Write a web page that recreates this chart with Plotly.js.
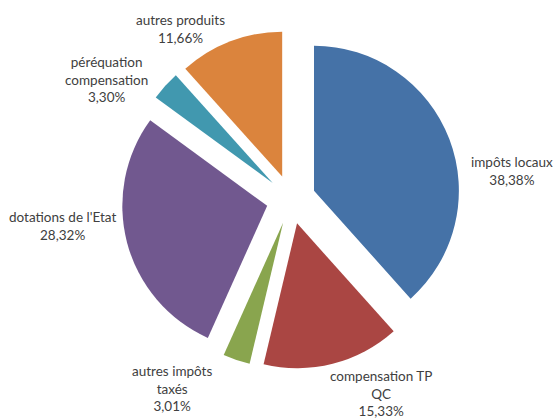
<!DOCTYPE html>
<html>
<head>
<meta charset="utf-8">
<script src="https://cdn.plot.ly/plotly-3.0.1.min.js"></script>
<style>html,body{margin:0;padding:0;background:#fff;}#chart{width:555px;height:419px;}</style>
</head>
<body>
<div id="chart"></div>
<script>
// Data
var categories = ["impôts locaux", "compensation TP QC", "autres impôts taxés", "dotations de l'Etat", "péréquation compensation", "autres produits"];
var labelLines = ["impôts locaux", "compensation TP<br>QC", "autres impôts<br>taxés", "dotations de l'Etat", "péréquation<br>compensation", "autres produits"];
var shares = [38.38, 15.33, 3.01, 28.32, 3.30, 11.66];
var colors = ["#4572A7", "#AA4643", "#89A54E", "#71588F", "#4198AF", "#DB843D"];

// Label placement (pixel centres in the 555x419 frame)
var labelPx = [[512, 171.5], [381, 393], [172, 388], [62, 226], [106, 79.5], [180, 28.5]];

var W = 555, H = 419;
var M = {l: 30, r: 3, t: 30, b: 50};
var pw = W - M.l - M.r, ph = H - M.t - M.b;

function fmt(v) { return v.toFixed(2).replace('.', ',') + '%'; }

var annotations = categories.map(function (c, i) {
  return {
    xref: 'paper', yref: 'paper',
    x: (labelPx[i][0] - M.l) / pw,
    y: 1 - (labelPx[i][1] - M.t) / ph,
    xanchor: 'center', yanchor: 'middle',
    text: labelLines[i] + '<br>' + fmt(shares[i]),
    showarrow: false,
    align: 'center',
    font: {family: 'Lato, sans-serif', size: 13.5, color: '#404040'}
  };
});

var trace = {
  type: 'pie',
  labels: categories,
  values: shares,
  sort: false,
  direction: 'clockwise',
  rotation: 0,
  pull: 0.17,
  textinfo: 'none',
  hoverinfo: 'label+percent',
  marker: {colors: colors, line: {width: 0}},
  showlegend: false
};

var layout = {
  width: W, height: H,
  margin: M,
  paper_bgcolor: '#ffffff',
  plot_bgcolor: '#ffffff',
  showlegend: false,
  annotations: annotations
};

Plotly.newPlot('chart', [trace], layout, {displayModeBar: false, staticPlot: true});
</script>
</body>
</html>
